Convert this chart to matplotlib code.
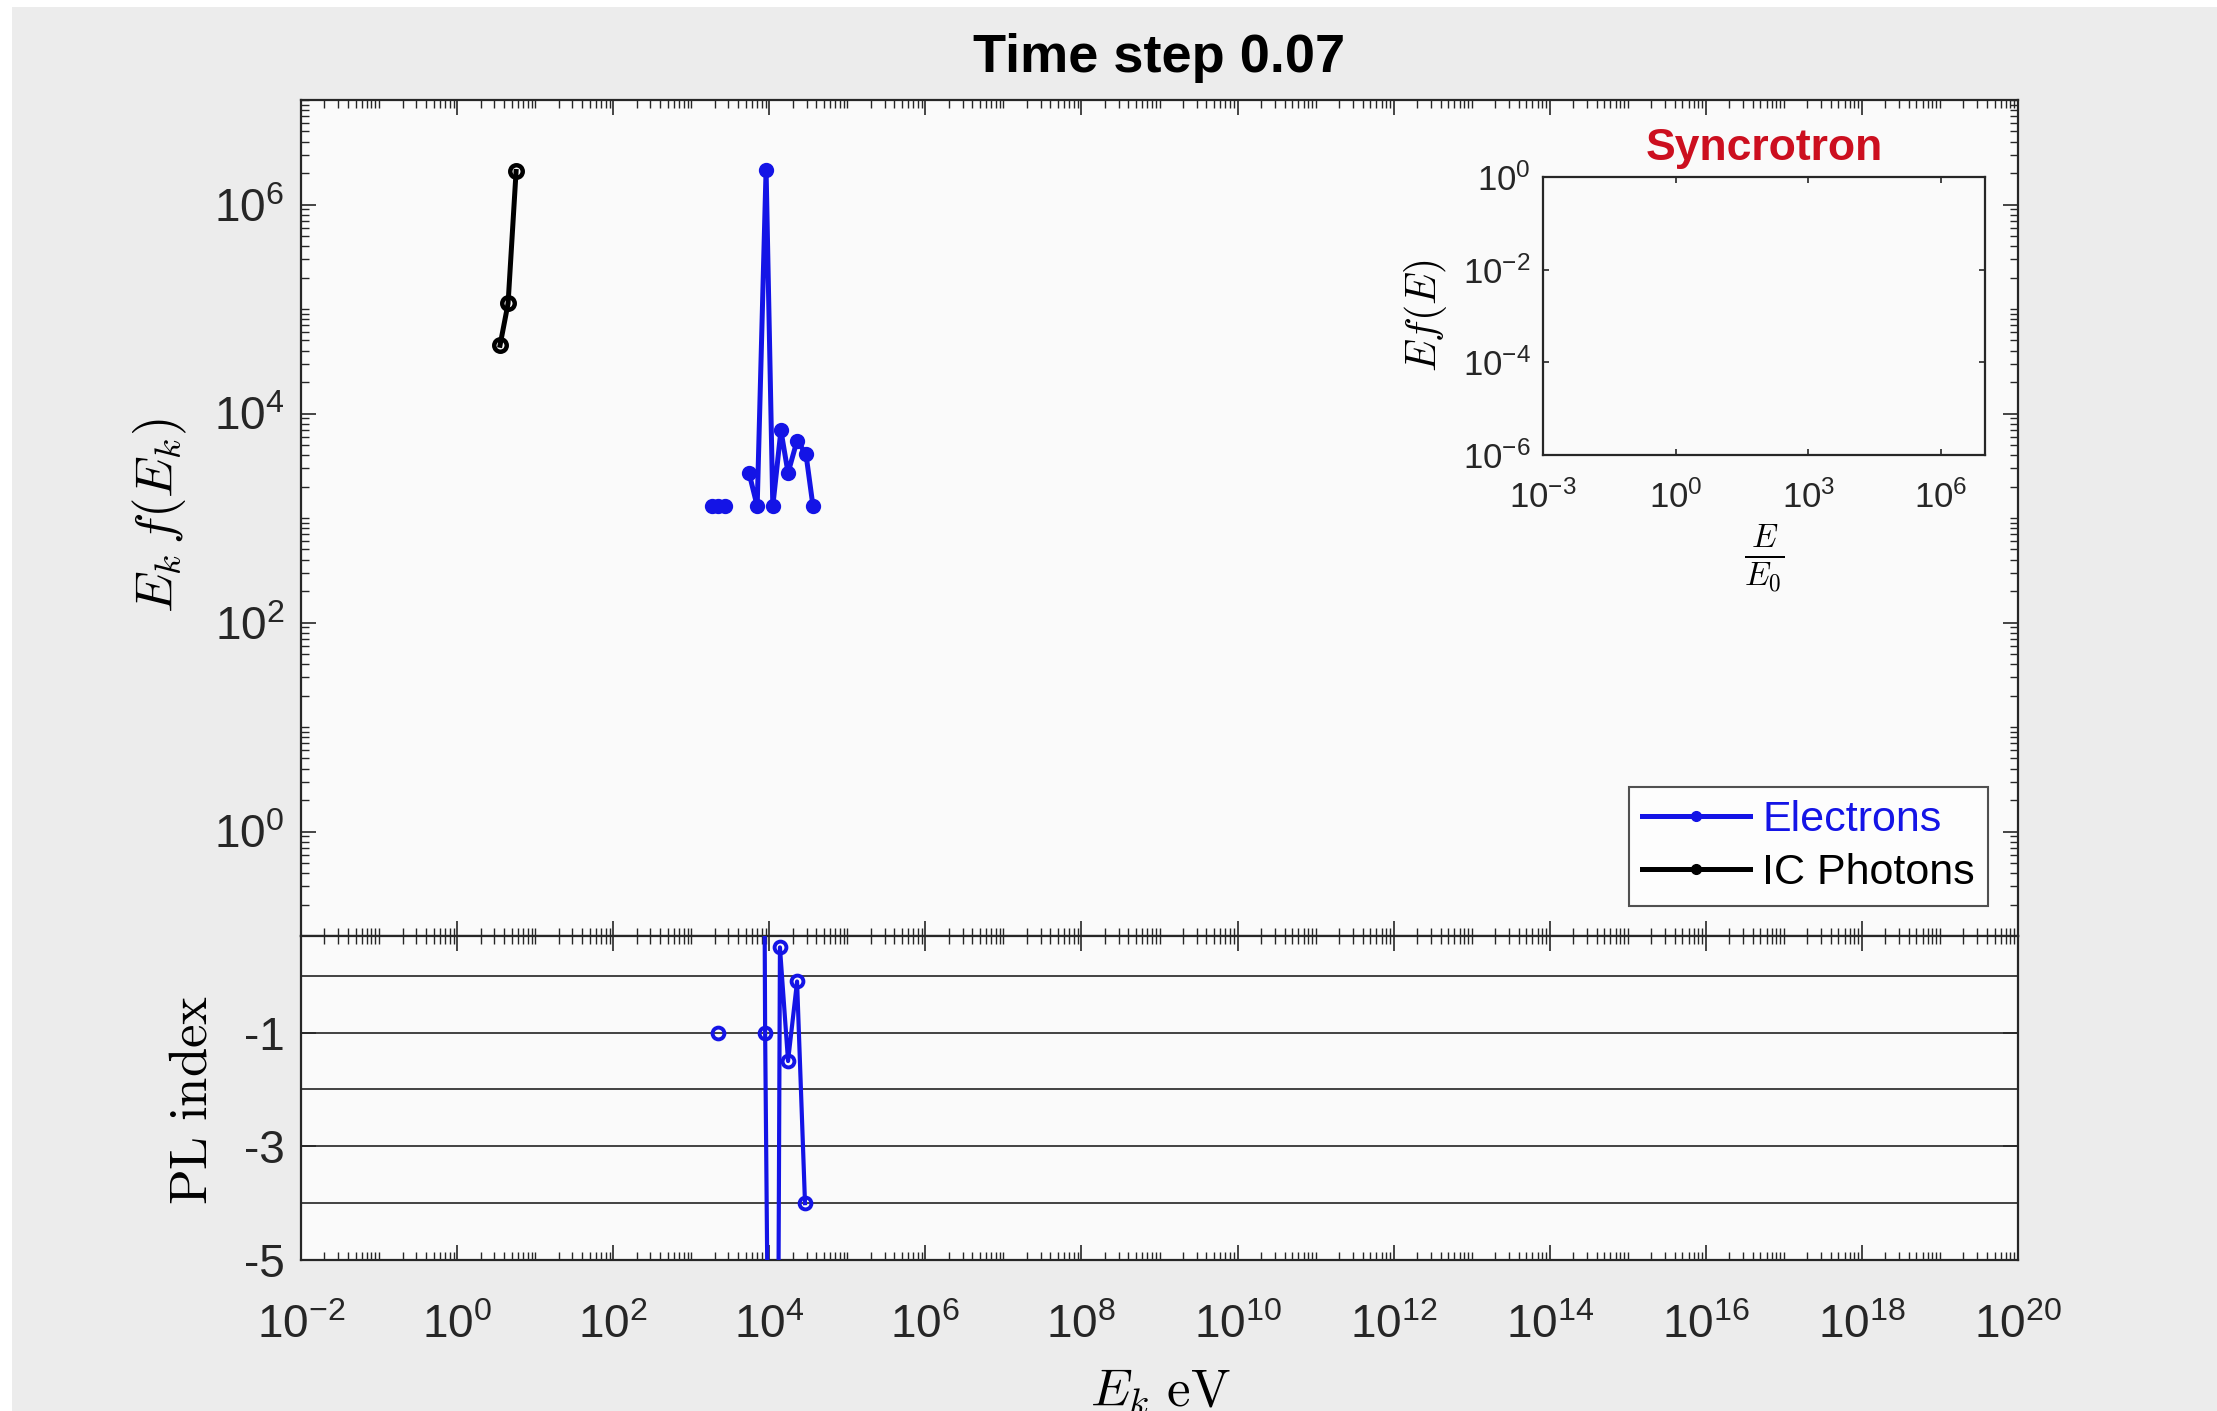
import numpy as np
import matplotlib
matplotlib.use("Agg")
import matplotlib.pyplot as plt
from matplotlib.ticker import FixedLocator, LogLocator, NullFormatter, NullLocator
from matplotlib.lines import Line2D
from matplotlib.patches import Rectangle

plt.rcParams['font.family'] = ['Liberation Sans', 'DejaVu Sans']
plt.rcParams['axes.unicode_minus'] = False

# ---- data -------------------------------------------------------------
# electron spectrum (NaN marks an empty bin)
electron_E = [1.85e3, 2.2e3, 2.7e3, np.nan, 5.5e3, 7.0e3, 9.1e3, 1.11e4,
              1.41e4, 1.74e4, 2.27e4, 2.95e4, 3.63e4]
electron_Ef = [1.3e3, 1.3e3, 1.3e3, np.nan, 2.7e3, 1.3e3, 2.15e6, 1.3e3,
               6.9e3, 2.7e3, 5.5e3, 4.1e3, 1.3e3]

# inverse-Compton photon spectrum
ic_E = [3.55, 4.5, 5.7]
ic_Ef = [4.5e4, 1.13e5, 2.07e6]

# local power-law index of the electron spectrum
pl_E = [2.2e3, np.nan, 7.0e3, 8.85e3, 1.18e4, 1.37e4, 1.74e4, 2.27e4, 2.87e4]
pl_index = [-1.0, np.nan, 30.0, -1.0, -20.0, 0.5, -1.5, -0.1, -4.0]
pl_ref_levels = [0, -1, -2, -3, -4]

x_major = [10.0 ** p for p in range(-2, 21, 2)]
y_major = [10.0 ** p for p in range(0, 7, 2)]
pl_ticks = [-5, -3, -1]
inset_xticks = [1e-3, 1e0, 1e3, 1e6]
inset_yticks = [1e-6, 1e-4, 1e-2, 1e0]

# ---- figure -----------------------------------------------------------
W, H = 2217, 1411
fig = plt.figure(figsize=(W / 100, H / 100), dpi=100)
fig.patch.set_facecolor('white')
fig.add_artist(Rectangle((12 / W, 0), 1, 1 - 7 / H, transform=fig.transFigure,
                         facecolor='#ececec', edgecolor='none', zorder=-5))

BLUE = '#1414e6'
AXC = '#262626'
FACE = '#fafafa'


def px_box(x0, y0, x1, y1):
    return [x0 / W, 1 - y1 / H, (x1 - x0) / W, (y1 - y0) / H]


ax = fig.add_axes(px_box(301, 100, 2018, 936))
axl = fig.add_axes(px_box(301, 936, 2018, 1260), sharex=ax)
axi = fig.add_axes(px_box(1543, 177, 1985, 455))


def style(a):
    a.set_facecolor(FACE)
    for s in a.spines.values():
        s.set_linewidth(1.6)
        s.set_color(AXC)
    a.tick_params(which='both', direction='in', top=True, right=True,
                  colors=AXC, labelcolor='#262626')
    a.tick_params(which='major', length=11, width=1.2, labelsize=33)
    a.tick_params(which='minor', length=6, width=1.0)


for a in (ax, axl):
    style(a)
    a.set_xscale('log')
    a.set_xlim(1e-2, 1e20)
    a.xaxis.set_major_locator(FixedLocator(x_major))
    a.xaxis.set_minor_locator(LogLocator(base=10, subs=np.arange(1, 10), numticks=1000))
    a.xaxis.set_minor_formatter(NullFormatter())

# main spectrum panel
ax.set_yscale('log')
ax.set_ylim(1e-1, 1e7)
ax.yaxis.set_major_locator(FixedLocator(y_major))
ax.yaxis.set_minor_locator(LogLocator(base=10, subs=np.arange(1, 10), numticks=1000))
ax.yaxis.set_minor_formatter(NullFormatter())
ax.tick_params(axis='x', labelbottom=False)
ax.tick_params(axis='y', pad=12)

ax.plot(electron_E, electron_Ef, '-o', color=BLUE, lw=3.6, ms=9,
        mfc=BLUE, mec=BLUE, mew=2)
ax.plot(ic_E, ic_Ef, '-o', color='black', lw=3.6, ms=9,
        mfc='none', mec='black', mew=3.2)

ax.set_title('Time step 0.07', fontsize=39, fontweight='bold', pad=20)

handles = [Line2D([], [], color=BLUE, lw=3.6, marker='o', ms=7, mfc=BLUE, mec=BLUE),
           Line2D([], [], color='black', lw=3.6, marker='o', ms=7, mfc='black', mec='black')]
leg = ax.legend(handles, ['Electrons', 'IC Photons'], loc='lower right',
                bbox_to_anchor=(1988 / W, 1 - 906 / H), bbox_transform=fig.transFigure,
                fontsize=31, frameon=True, fancybox=False, handlelength=2.5,
                handletextpad=0.3, labelspacing=0.3, borderpad=0.3, borderaxespad=0)
leg.get_frame().set_edgecolor(AXC)
leg.get_frame().set_linewidth(1.5)
leg.get_frame().set_facecolor('white')
leg.get_texts()[0].set_color(BLUE)
leg.get_texts()[1].set_color('black')

# power-law index panel
axl.set_ylim(-5, 0.7)
axl.yaxis.set_major_locator(FixedLocator(pl_ticks))
axl.yaxis.set_minor_locator(NullLocator())
axl.tick_params(axis='y', pad=12)
axl.tick_params(axis='x', pad=32)
for lvl in pl_ref_levels:
    axl.axhline(lvl, color='#333333', lw=1.3, zorder=1)
axl.plot(pl_E, pl_index, '-o', color=BLUE, lw=3.0, ms=8.5,
         mfc='none', mec=BLUE, mew=2.8, zorder=3)

# synchrotron inset
style(axi)
axi.set_xscale('log')
axi.set_yscale('log')
axi.set_xlim(1e-3, 1e7)
axi.set_ylim(1e-6, 1e0)
axi.xaxis.set_major_locator(FixedLocator(inset_xticks))
axi.yaxis.set_major_locator(FixedLocator(inset_yticks))
axi.xaxis.set_minor_locator(NullLocator())
axi.yaxis.set_minor_locator(NullLocator())
axi.tick_params(which='major', length=4, labelsize=25)
axi.tick_params(axis='x', pad=18)
axi.tick_params(axis='y', pad=9)
axi.set_title('Syncrotron', color='#cc0f1f', fontsize=32, fontweight='bold', pad=12)
axi.set_ylabel(r'$Ef(E)$', fontsize=30, math_fontfamily='cm', labelpad=10)
axi.set_xlabel(r'$\frac{E}{E_0}$', fontsize=34, math_fontfamily='cm', labelpad=6)

# axis labels placed on the figure
fig.text(160 / W, 1 - 516 / H, r'$E_k\,f(E_k)$', rotation=90, ha='center',
         va='center', fontsize=38, math_fontfamily='cm')
fig.text(192 / W, 1 - 1100 / H, r'$\mathrm{PL\ index}$', rotation=90, ha='center',
         va='center', fontsize=38, math_fontfamily='cm')
fig.text(1160 / W, 1 - 1406 / H, r'$E_k\ \mathrm{eV}$', ha='center',
         va='baseline', fontsize=38, math_fontfamily='cm')

fig.savefig('out.png', dpi=100, facecolor=fig.get_facecolor())
